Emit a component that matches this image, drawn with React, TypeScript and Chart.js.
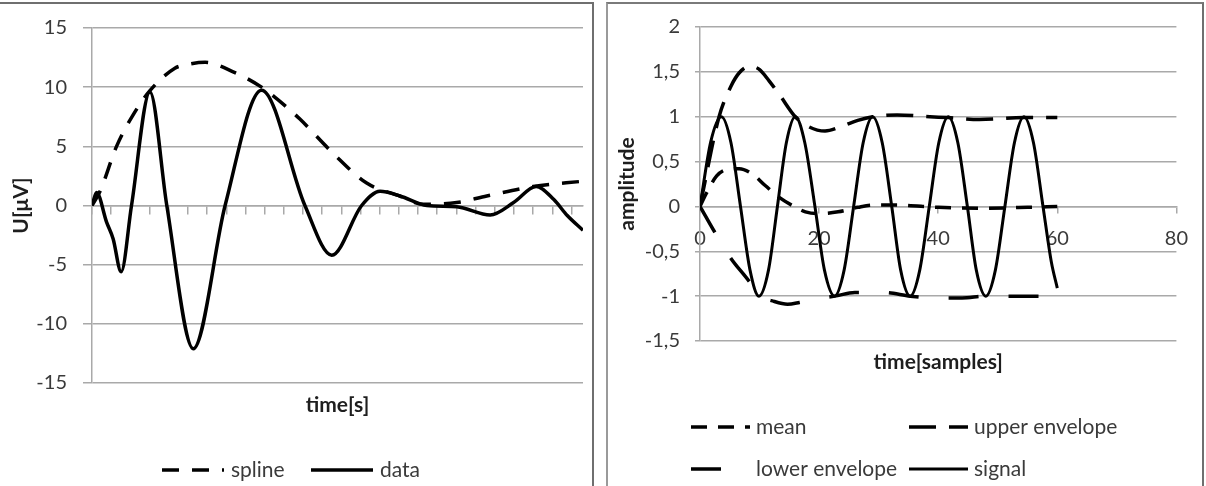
import React, { useEffect, useRef } from 'react';
import { Chart, registerables } from 'chart.js';

Chart.register(...registerables);

const FONT = "Lato, 'Noto Sans', 'DejaVu Sans', sans-serif";
const GRID = '#a9a9a9';
const TICK_COLOR = '#3a3a3a';
const TITLE_COLOR = '#1e1e1e';
const LINE = '#000000';

// ---------------- Left chart (time[s] / U[μV]) ----------------
const LEFT_X_TICKS = [0, 5, 10, 15, 20, 25, 30, 35, 40, 45, 50, 55, 60, 65, 70, 75, 80, 85, 90, 95, 100, 105, 110, 115, 120, 125];
const DATA_X = [0, 1.2, 3.8, 5.5, 7.6, 10.3, 15.1, 19.5, 26.4, 34.7, 44.2, 55.5, 62.5, 70.3, 75.1, 80.3, 87.3, 95.1, 103.8, 109.9, 115.8, 120.4, 123.9, 128];
const DATA_Y = [0, 1.1, -1.4, -2.8, -5.6, 0, 9.6, 0, -12.1, 0, 9.75, 0, -4.2, 0, 1.2, 0.8, 0, -0.1, -0.8, 0.25, 1.6, 0.5, -0.85, -2.1];
const SPLINE_X = [0, 2.1, 6.4, 10.8, 15.1, 21.6, 24.7, 29.5, 36.8, 44.2, 50.8, 54.2, 62.9, 71.6, 80.3, 86.4, 95.1, 102.9, 115.0, 127.9];
const SPLINE_Y = [0, 1.2, 5.0, 7.7, 9.7, 11.6, 11.9, 12.1, 11.3, 10.0, 8.3, 7.3, 4.4, 1.9, 0.8, 0.1, 0.25, 0.8, 1.6, 2.05];

// ---------------- Right chart (time[samples] / amplitude) ----------------
const RIGHT_X_TICKS = [0, 20, 40, 60, 80];
const MEAN_X = [0, 1.1, 2.8, 4.4, 6.6, 8.8, 11, 13.3, 15.5, 17.7, 19.9, 23.2, 26.5, 29, 33, 40, 47, 55, 60];
const MEAN_Y = [0, 0.15, 0.34, 0.41, 0.42, 0.36, 0.23, 0.1, 0.01, -0.06, -0.08, -0.06, -0.01, 0.015, 0.015, -0.01, -0.02, -0.01, 0];
const UPPER_X = [0, 3.2, 5.2, 6.6, 8.3, 9.9, 11.6, 13.5, 16, 18.2, 21, 23.7, 26.5, 29, 33.1, 38.6, 41.7, 46.9, 54.4, 60];
const UPPER_Y = [0, 1.0, 1.34, 1.49, 1.56, 1.53, 1.4, 1.23, 1.0, 0.89, 0.84, 0.89, 0.96, 1.0, 1.02, 1.0, 0.99, 0.97, 0.99, 0.99];
const LOWER_X = [0, 2.5, 5.2, 8.3, 9.9, 12, 14.7, 16.7, 19.5, 22.6, 26, 31, 35.3, 40, 44, 48, 54.4, 60];
const LOWER_Y = [0, -0.29, -0.58, -0.84, -1.0, -1.05, -1.09, -1.07, -1.03, -1.0, -0.96, -0.96, -1.0, -1.02, -1.02, -1.0, -1.0, -1.0];
const SIGNAL_X = [0, 1.8, 3.6, 5.2, 6.8, 8.4, 9.9, 11.5, 13.0, 14.5, 16.0, 17.6, 19.3, 20.9, 22.6, 24.2, 25.8, 27.4, 29.0, 30.6, 32.2, 33.7, 35.3, 36.9, 38.5, 40.1, 41.7, 43.3, 44.9, 46.4, 48.0, 49.6, 51.2, 52.8, 54.4, 56.0, 57.6, 59.0, 60.0];
const SIGNAL_Y = [0, 0.72, 1, 0.71, 0, -0.71, -1, -0.71, 0, 0.71, 1, 0.71, 0, -0.71, -1, -0.71, 0, 0.71, 1, 0.71, 0, -0.71, -1, -0.71, 0, 0.71, 1, 0.71, 0, -0.71, -1, -0.71, 0, 0.71, 1, 0.71, 0, -0.62, -0.91];

const pts = (xs: number[], ys: number[]) => xs.map((x, i) => ({ x, y: ys[i] }));

type LegendItem = { datasetIndex: number; x: number; y: number };
function makeLegend(items: LegendItem[], sampleWidth: number, gap: number) {
  return {
    id: 'inlineLegend',
    afterDraw(chart: any) {
      const ctx = chart.ctx as CanvasRenderingContext2D;
      ctx.save();
      items.forEach((it) => {
        const ds = chart.data.datasets[it.datasetIndex];
        ctx.beginPath();
        ctx.setLineDash(ds.borderDash || []);
        ctx.lineWidth = ds.borderWidth;
        ctx.strokeStyle = ds.borderColor;
        ctx.lineCap = 'butt';
        ctx.moveTo(it.x, it.y);
        ctx.lineTo(it.x + sampleWidth, it.y);
        ctx.stroke();
        ctx.setLineDash([]);
        ctx.font = `21px ${FONT}`;
        ctx.fillStyle = TICK_COLOR;
        ctx.textAlign = 'left';
        ctx.textBaseline = 'middle';
        ctx.fillText(ds.label, it.x + sampleWidth + gap, it.y);
      });
      ctx.restore();
    },
  };
}

const lineDs = (label: string, data: any[], dash: number[], width: number) => ({
  label,
  data,
  borderColor: LINE,
  backgroundColor: LINE,
  borderWidth: width,
  borderDash: dash,
  pointRadius: 0,
  pointHoverRadius: 0,
  showLine: true,
  fill: false,
  cubicInterpolationMode: 'monotone' as const,
});

const tickFont = { family: FONT, size: 20 };
const titleFont = { family: FONT, size: 21, weight: 'bold' as const };

function buildLeft(): any {
  return {
    type: 'scatter',
    data: {
      datasets: [
        lineDs('spline', pts(SPLINE_X, SPLINE_Y), [17, 13], 3.5),
        lineDs('data', pts(DATA_X, DATA_Y), [], 3.5),
      ],
    },
    options: {
      animation: false,
      responsive: false,
      devicePixelRatio: 1,
      events: [],
      layout: { padding: { left: 0, right: 9, top: 23, bottom: 68 } },
      plugins: { legend: { display: false }, tooltip: { enabled: false } },
      scales: {
        x: {
          type: 'linear',
          min: 0,
          max: 128,
          position: { y: 0 },
          ticks: { display: false },
          afterBuildTicks: (s: any) => {
            s.ticks = LEFT_X_TICKS.map((v) => ({ value: v }));
          },
          grid: { drawOnChartArea: false, drawTicks: true, tickLength: 8, color: GRID, lineWidth: 1.5 },
          border: { display: true, color: GRID, width: 1.5 },
        },
        xb: {
          type: 'linear',
          axis: 'x',
          position: 'bottom',
          min: 0,
          max: 1,
          ticks: { display: false },
          grid: { display: false, drawTicks: false },
          border: { display: false },
          title: { display: true, text: 'time[s]', color: TITLE_COLOR, font: titleFont, padding: { top: 0, bottom: 0 } },
          afterFit: (s: any) => {
            s.height = 35;
          },
        },
        y: {
          type: 'linear',
          min: -15,
          max: 15,
          ticks: { stepSize: 5, padding: 16, color: TICK_COLOR, font: tickFont },
          grid: { color: GRID, lineWidth: 1.5, tickLength: 9 },
          border: { color: GRID, width: 1.5 },
          title: { display: true, text: 'U[μV]', color: TITLE_COLOR, font: titleFont, padding: { top: 9, bottom: 0 } },
          afterFit: (s: any) => {
            s.width = 92;
          },
        },
      },
    },
    plugins: [
      makeLegend(
        [
          { datasetIndex: 0, x: 162, y: 470 },
          { datasetIndex: 1, x: 311, y: 470 },
        ],
        62,
        7
      ),
    ],
  };
}

function buildRight(): any {
  return {
    type: 'scatter',
    data: {
      datasets: [
        lineDs('mean', pts(MEAN_X, MEAN_Y), [16, 11], 3.5),
        lineDs('upper envelope', pts(UPPER_X, UPPER_Y), [27, 13], 3.5),
        lineDs('lower envelope', pts(LOWER_X, LOWER_Y), [30, 30], 3.5),
        lineDs('signal', pts(SIGNAL_X, SIGNAL_Y), [], 3),
      ],
    },
    options: {
      animation: false,
      responsive: false,
      devicePixelRatio: 1,
      events: [],
      layout: { padding: { left: 0, right: 19, top: 23, bottom: 111 } },
      plugins: { legend: { display: false }, tooltip: { enabled: false } },
      scales: {
        x: {
          type: 'linear',
          min: 0,
          max: 80,
          position: { y: 0 },
          ticks: { stepSize: 20, padding: 14, color: TICK_COLOR, font: tickFont, maxRotation: 0, autoSkip: false },
          afterBuildTicks: (s: any) => {
            s.ticks = RIGHT_X_TICKS.map((v) => ({ value: v }));
          },
          grid: { drawOnChartArea: false, drawTicks: true, tickLength: 6, color: GRID, lineWidth: 1.5 },
          border: { display: true, color: GRID, width: 1.5 },
        },
        xb: {
          type: 'linear',
          axis: 'x',
          position: 'bottom',
          min: 0,
          max: 1,
          ticks: { display: false },
          grid: { display: false, drawTicks: false },
          border: { display: false },
          title: { display: true, text: 'time[samples]', color: TITLE_COLOR, font: titleFont, padding: { top: 0, bottom: 0 } },
          afterFit: (s: any) => {
            s.height = 34;
          },
        },
        y: {
          type: 'linear',
          min: -1.5,
          max: 2,
          ticks: {
            stepSize: 0.5,
            padding: 15,
            color: TICK_COLOR,
            font: tickFont,
            callback: (v: number) => String(v).replace('.', ','),
          },
          grid: { color: GRID, lineWidth: 1.5, tickLength: 5 },
          border: { color: GRID, width: 1.5 },
          title: { display: true, text: 'amplitude', color: TITLE_COLOR, font: titleFont, padding: { top: 7, bottom: 0 } },
          afterFit: (s: any) => {
            s.width = 92;
          },
        },
      },
    },
    plugins: [
      makeLegend(
        [
          { datasetIndex: 0, x: 83, y: 427 },
          { datasetIndex: 1, x: 301, y: 427 },
          { datasetIndex: 2, x: 83, y: 469 },
          { datasetIndex: 3, x: 301, y: 469 },
        ],
        59,
        6
      ),
    ],
  };
}

function ChartBox({ left, width, build }: { left: number; width: number; build: () => any }) {
  const ref = useRef<HTMLCanvasElement>(null);
  useEffect(() => {
    const chart = new Chart(ref.current as HTMLCanvasElement, build());
    return () => chart.destroy();
  }, []);
  return (
    <canvas
      ref={ref}
      width={width}
      height={486}
      style={{ position: 'absolute', left, top: 0, width, height: 486, display: 'block' }}
    />
  );
}

export default function App() {
  return (
    <div
      style={{
        position: 'fixed',
        left: 0,
        top: 0,
        width: 1206,
        height: 486,
        overflow: 'hidden',
        background: '#ffffff',
      }}
    >
      <ChartBox left={0} width={592} build={buildLeft} />
      <ChartBox left={608} width={594} build={buildRight} />
      <div
        style={{
          position: 'absolute',
          left: -10,
          top: 2,
          width: 604,
          height: 600,
          border: '2px solid #6f6f6f',
          boxSizing: 'border-box',
          pointerEvents: 'none',
        }}
      />
      <div
        style={{
          position: 'absolute',
          left: 606,
          top: 2,
          width: 598,
          height: 600,
          borderTop: '2px solid #7a7a7a',
          borderLeft: '2px solid #9a9a9a',
          borderRight: '2px solid #6f6f6f',
          boxSizing: 'border-box',
          pointerEvents: 'none',
        }}
      />
    </div>
  );
}
